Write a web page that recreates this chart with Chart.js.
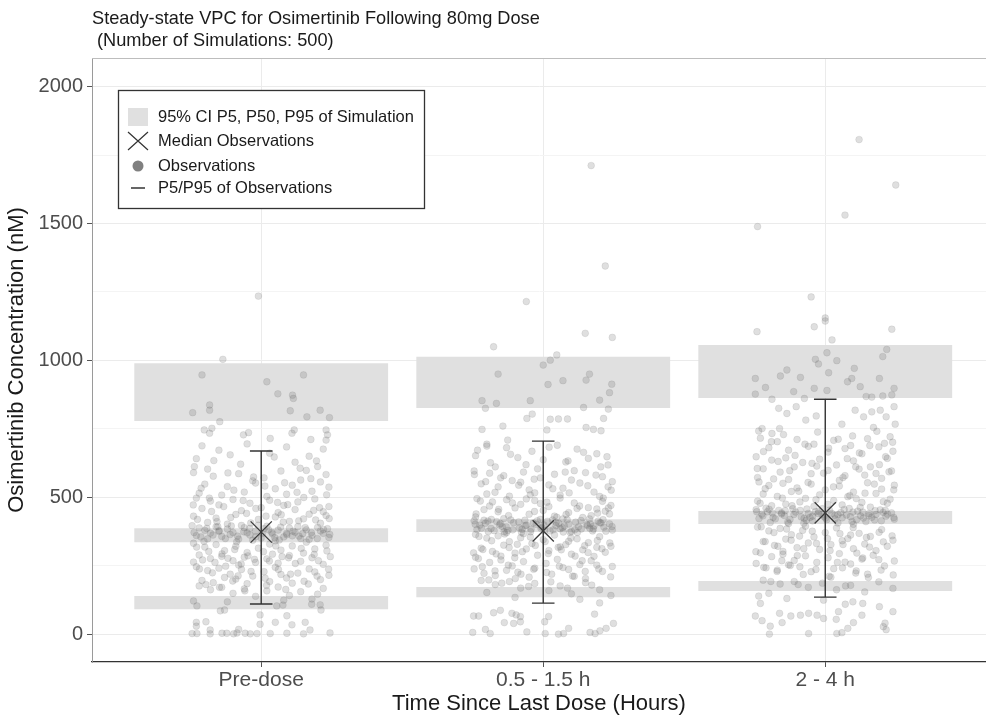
<!DOCTYPE html>
<html>
<head>
<meta charset="utf-8">
<title>Osimertinib VPC</title>
<script src="https://cdn.jsdelivr.net/npm/chart.js@4.4.1/dist/chart.umd.min.js"></script>
<style>
  html, body { margin: 0; padding: 0; background: #fff; overflow: hidden; }
  canvas { display: block; }
</style>
</head>
<body>
<canvas id="vpcChart" width="986" height="716"></canvas>
<script>
// x categories (time bins) and their positions on the linear x axis
const categories = ['Pre-dose', '0.5 - 1.5 h', '2 - 4 h'];
const categoryPos = [1, 2, 3];

// y axis ticks (labelled) and minor grid lines
const yTicks = [0, 500, 1000, 1500, 2000];
const yMinorTicks = [250, 750, 1250, 1750];

// 95% CI of simulated P5 / P50 / P95 (nM), one value per bin
const simP5Low = [91, 135, 157];
const simP5High = [139, 172, 194];
const simP50Low = [336, 373, 402];
const simP50High = [387, 420, 450];
const simP95Low = [779, 826, 863];
const simP95High = [990, 1013, 1056];

// observed median and P5/P95 (nM)
const obsMedian = [373, 377, 443];
const obsP5 = [110, 113, 135];
const obsP95 = [669, 705, 858];

// observations: [jitter offset, concentration nM]
const obsPreDose = [
  [-.01,1235],[-.136,1004],[-.21,947],[.02,922],[.15,947],[.059,878],[.111,873],[.114,861],[-.183,837],[-.183,818],
  [-.243,809],[.103,816],[.209,818],[.162,794],[.242,791],[-.147,776],[-.202,746],[-.175,752],[-.183,734],[-.063,728],
  [-.045,736],[.117,746],[.109,734],[.032,715],[.176,711],[.23,746],[.235,728],[.23,709],
  [-.21,688],[-.15,672],[-.05,695],[.03,661],[.09,684],[.17,650],[.22,676],[-.23,641],[-.11,655],[.12,628],[.2,612],[-.19,603],
  [-.24,590],[-.17,577],[-.08,586],[.01,571],[.07,596],[.14,563],[.23,583],[-.2,548],[-.12,539],[-.02,552],[.05,531],
  [.11,544],[.18,522],[.24,537],[-.22,515],[-.14,508],[-.06,519],[.02,503],[.09,511],[.16,598],[-.03,560],[.21,556],
  [-.23,497],[-.18,486],[-.1,492],[-.04,478],[.03,489],[.08,470],[.13,483],[.19,494],[.24,466],[-.21,459],[-.15,472],
  [-.07,451],[.0,462],[.06,444],[.12,455],[.17,438],[.22,447],[-.24,431],[-.16,424],[-.09,437],[-.01,419],[.05,428],
  [.1,412],[.15,421],[.21,405],[-.19,408],[-.12,402],[.23,433],
  [-.245,396],[-.22,388],[-.2,379],[-.18,369],[-.16,392],[-.14,357],[-.12,384],[-.1,371],[-.08,347],[-.06,389],
  [-.04,362],[-.02,376],[.0,351],[.02,394],[.04,366],[.06,380],[.08,355],[.1,387],[.12,372],[.14,349],[.16,381],
  [.18,361],[.2,390],[.22,368],[.24,353],[-.23,360],[-.19,348],[-.15,375],[-.11,364],[-.07,397],[-.03,343],[.01,385],
  [.05,341],[.09,368],[.13,393],[.17,346],[.21,377],[.235,385],[-.05,370],[.11,359],
  [-.24,332],[-.2,318],[-.16,327],[-.13,305],[-.09,321],[-.05,298],[-.01,314],[.03,329],[.07,307],[.11,322],[.15,296],
  [.19,311],[.23,325],[-.22,289],[-.18,276],[-.14,284],[-.1,268],[-.06,281],[-.02,262],[.02,275],[.06,259],[.1,287],
  [.14,266],[.18,279],[.22,255],[-.24,263],[-.08,252],[.04,292],[.16,336],[.245,283],
  [-.23,246],[-.19,232],[-.15,241],[-.11,219],[-.07,236],[-.03,212],[.01,228],[.05,244],[.09,205],[.13,223],[.17,238],
  [.21,199],[.24,215],[-.21,196],[-.17,188],[-.13,207],[-.05,184],[.03,192],[.11,186],[.19,227],[-.09,201],[.07,218],
  [-.22,176],[-.18,162],[-.14,171],[-.1,149],[-.06,165],[-.02,138],[.02,158],[.06,172],[.1,141],[.14,155],[.18,128],
  [.22,167],[-.24,121],[-.12,118],[.08,124],[.2,146],
  [-.237,612],[-.168,634],[-.073,621],[.046,647],[.138,606],[.196,633],[-.118,589],[-.027,574],[.083,553],[.176,568],
  [-.213,533],[-.097,526],[.013,541],[.127,518],[.232,509],[-.184,497],[-.064,488],[.058,481],[.151,499],[-.241,472],
  [-.133,466],[-.019,459],[.094,473],[.207,462],[-.176,448],[-.052,441],[.071,436],[.186,452],[-.226,419],[-.108,426],
  [.017,431],[.133,414],[.241,422],[-.157,411],[-.037,406],[.078,409],[.193,417],
  [-.238,371],[-.214,355],[-.193,386],[-.171,362],[-.149,378],[-.127,349],[-.106,395],[-.084,358],[-.062,374],
  [-.041,386],[-.019,356],[.004,368],[.026,381],[.048,352],[.069,391],[.091,363],[.113,376],[.134,358],[.156,389],
  [.178,371],[.199,349],[.221,382],[.243,364],[-.203,339],[-.087,337],[.037,372],[.147,367],[-.154,393],[.064,344],
  [-.011,398],
  [-.229,318],[-.186,302],[-.139,293],[-.094,309],[-.047,286],[.008,301],[.052,322],[.097,279],[.142,313],[.188,291],
  [.233,304],[-.208,271],[-.164,262],[-.118,277],[-.071,256],[-.024,273],[.029,267],[.074,283],[.121,258],[.203,268],
  [-.219,238],[-.173,224],[-.126,248],[-.082,213],[-.036,229],[.014,204],[.061,236],[.104,219],[.152,193],[.198,212],
  [.239,237],[-.196,181],[-.148,171],[-.101,194],[-.058,158],[.019,178],[.087,163],[.167,183],
  [-.228,103],[-.145,85],[-.13,88],[-.004,70],[.091,67],[.055,103],[.077,106],[.179,109],[.209,107],[.212,88],
  [-.23,43],[-.196,45],[-.004,36],[.05,43],[.109,34],[.156,43],[-.23,29],[-.181,15],[-.08,17],[.173,15],
  [-.245,2],[-.228,2],[-.181,1],[-.139,3],[-.122,3],[-.098,1],[-.086,4],[-.057,3],[-.039,1],[-.015,2],[.032,2],
  [.091,3],[.15,1],[.244,4]
];

const obsMidAbs = [
  [.17,1712],[.22,1345],[-.06,1215],[.149,1099],[.245,1084],[-.176,1050],[.048,1020],[.025,1001],[0,983],[-.16,950],
  [.164,950],[.07,926],[.017,912],[.152,928],[.243,913],[.235,882],[-.217,853],[-.166,843],[-.046,853],[.2,855],
  [-.205,825],[.143,828],[.231,822],[-.058,788],[-.039,804],[.025,785],[.054,786],[.086,786],[.214,788],[-.143,760],
  [-.217,748],[.152,755],[.178,748],[.205,743],[.013,746],[-.126,709],[-.2,687],
  [-.2,694],[-.13,681],[-.04,668],[.05,690],[.12,676],[.19,659],[-.24,652],[-.09,645],[.0,637],[.08,629],[.16,642],
  [.23,618],[-.17,611],[-.02,604],
  [-.245,596],[-.19,588],[-.14,579],[-.07,592],[-.01,571],[.04,584],[.1,563],[.15,590],[.21,575],[.245,557],[-.22,549],
  [-.16,538],[-.11,561],[-.05,527],[.02,545],[.07,533],[.13,552],[.18,519],[.23,538],[-.2,512],[-.12,504],[-.03,516],
  [.06,508],[.11,597],[.2,503],[-.08,555],
  [-.235,495],[-.18,483],[-.13,491],[-.08,474],[-.03,488],[.02,466],[.06,497],[.11,479],[.16,462],[.21,485],[.24,470],
  [-.21,455],[-.16,447],[-.1,461],[-.05,438],[.0,452],[.04,431],[.09,444],[.14,426],[.19,457],[.235,439],[-.24,428],
  [-.14,422],[-.06,494],[.07,421],[.17,433],[-.19,468],[.12,459],[-.01,477],[.22,449],
  [-.245,414],[-.225,398],[-.205,405],[-.185,386],[-.165,411],[-.145,393],[-.125,379],[-.105,407],[-.085,388],
  [-.065,416],[-.045,374],[-.025,401],[-.005,390],[.015,412],[.035,381],[.055,404],[.075,395],[.095,372],[.115,409],
  [.135,384],[.155,400],[.175,377],[.195,413],[.215,391],[.235,403],[-.235,382],[-.195,375],[-.155,399],[-.115,417],
  [-.075,383],[-.035,406],[.005,378],[.045,396],[.085,418],[.125,392],[.165,387],[.205,406],[.245,380],[-.13,371],
  [-.01,419],[.1,375],[.18,395],[-.06,398],[.06,385],[-.21,416],
  [-.24,364],[-.2,351],[-.16,359],[-.12,338],[-.08,352],[-.04,331],[.0,345],[.04,362],[.08,327],[.12,348],[.16,334],
  [.2,356],[.24,321],[-.22,314],[-.18,302],[-.14,325],[-.1,296],[-.06,311],[-.02,288],[.02,305],[.06,319],[.1,292],
  [.14,308],[.18,284],[.22,299],[-.24,281],[-.07,367],[.09,339],[-.15,285],[.19,317],
  [-.23,276],[-.19,262],[-.15,271],[-.11,249],[-.07,265],[-.03,241],[.01,258],[.05,273],[.09,236],[.13,254],[.17,268],
  [.21,229],[.245,247],[-.21,222],[-.17,214],[-.13,233],[-.05,208],[.03,219],[.11,211],[.19,252],[-.09,226],[.07,243],
  [-.245,238],[.15,203],
  [-.22,196],[-.17,181],[-.12,192],[-.08,168],[-.03,185],[.02,159],[.06,176],[.1,147],[.15,188],[.2,162],[.24,141],
  [-.2,152],[-.1,134],[.13,127],
  [-.233,672],[-.116,657],[.021,683],[.143,664],[.226,648],[-.187,626],[-.061,619],[.088,633],[.204,611],[-.244,583],
  [-.151,571],[-.032,566],[.078,592],[.187,581],[-.204,557],[-.087,544],[.034,531],[.158,542],[.241,526],[-.171,518],
  [-.046,509],[.092,516],[.213,497],[-.223,486],[-.109,479],[.013,482],[.129,468],[.231,461],[-.158,456],[-.031,448],
  [.081,437],[.193,442],[-.238,439],[-.123,433],[.048,427],[.164,421],
  [-.241,401],[-.219,387],[-.196,413],[-.174,378],[-.152,404],[-.131,392],[-.108,381],[-.087,410],[-.064,396],
  [-.043,383],[-.021,414],[.002,399],[.024,377],[.046,408],[.068,389],[.091,402],[.112,381],[.134,415],[.157,396],
  [.178,384],[.201,407],[.222,376],[.244,393],[-.184,419],[-.077,372],[.033,417],[.121,371],[.212,418],[-.139,374],
  [-.008,386],[.071,373],[.167,403],
  [-.228,357],[-.183,341],[-.137,366],[-.092,328],[-.046,355],[.007,338],[.053,317],[.098,351],[.147,323],[.192,342],
  [.236,333],[-.214,309],[-.167,293],[-.121,316],[-.074,301],[-.028,324],[.018,294],[.064,308],[.113,285],[.159,298],
  [.208,312],[-.247,297],[-.101,279],[.138,268],
  [-.216,246],[-.171,231],[-.124,252],[-.079,219],[-.034,237],[.012,225],[.057,248],[.104,212],[.149,229],[.197,238],
  [.239,209],[-.193,198],[-.147,186],[-.099,203],[-.052,174],[.027,191],[.086,168],[.172,179],
  [.2,114],[-.247,66],[-.229,66],[-.176,78],[-.152,87],[-.111,76],[-.096,70],[-.081,64],[-.138,42],[-.105,39],
  [-.081,45],[.005,45],[.019,64],[.182,73],[.249,39],[.223,21],[.201,12],[-.25,6],[-.205,17],[-.188,2],[-.058,8],
  [.007,2],[.054,0],[.072,2],[.09,21],[.166,6],[.184,2]
];

const obsLate = [
  [.12,1807],[.25,1641],[.07,1531],[-.24,1489],[-.05,1232],[0,1155],[-.242,1105],[-.039,1123],[0,1144],[.236,1114],
  [.024,1075],[.218,1040],[.006,1028],[.204,1014],[-.035,1004],[-.024,987],[.041,999],[-.136,965],[-.159,943],
  [-.088,938],[.012,955],[.103,971],[.079,922],[.094,934],[.192,934],[-.248,934],[-.212,901],[-.112,886],[-.039,898],
  [.006,890],[.124,904],[-.248,877],[.244,898],[.236,874],[-.189,858],[.145,868],[.165,866],[.204,870],[-.074,861],
  [-.103,831],[-.165,825],[-.136,806],[-.069,782],[-.032,797],[.106,818],[.136,794],[.165,812],[.195,818],[.216,794],
  [.244,831],[-.224,751],[-.189,733],[-.162,751],[.059,767],[.171,755],[.248,767],[.23,721],
  [-.23,716],[-.17,703],[-.1,711],[-.04,694],[.03,708],[.09,689],[.15,714],[.21,697],[-.2,681],[-.13,672],[-.06,686],
  [.01,665],[.07,678],[.13,659],[.19,684],[.24,668],
  [-.245,648],[-.19,636],[-.14,644],[-.08,627],[-.02,639],[.04,618],[.1,633],[.16,611],[.22,642],[-.22,604],[-.16,592],
  [-.11,611],[-.05,586],[.01,598],[.07,579],[.12,603],[.18,587],[.235,596],[-.24,572],[-.13,565],[.05,562],[.2,569],
  [-.03,614],[.14,581],
  [-.235,556],[-.2,543],[-.15,551],[-.1,534],[-.05,548],[.0,527],[.05,541],[.1,519],[.15,553],[.2,530],[.245,544],
  [-.22,512],[-.17,503],[-.12,521],[-.07,496],[-.02,509],[.03,488],[.08,502],[.13,481],[.18,514],[.23,493],[-.24,486],
  [-.14,475],[-.04,467],[.06,472],[.16,464],[.22,478],[-.19,469],[-.09,483],[.11,495],
  [-.245,455],[-.225,438],[-.205,447],[-.185,426],[-.165,452],[-.145,433],[-.125,419],[-.105,446],[-.085,428],
  [-.065,457],[-.045,414],[-.025,441],[-.005,430],[.015,453],[.035,421],[.055,444],[.075,435],[.095,411],[.115,449],
  [.135,424],[.155,440],[.175,417],[.195,454],[.215,431],[.235,443],[-.235,422],[-.195,408],[-.155,439],[-.115,458],
  [-.075,423],[-.035,447],[.005,418],[.045,436],[.085,459],[.125,432],[.165,427],[.205,445],[.245,420],[-.13,404],
  [-.01,458],[.1,401],[.18,437],[-.06,441],[.06,425],[-.21,460],
  [-.24,391],[-.2,377],[-.16,386],[-.12,363],[-.08,379],[-.04,355],[.0,371],[.04,388],[.08,349],[.12,368],[.16,357],
  [.2,382],[.24,343],[-.22,338],[-.18,324],[-.14,347],[-.1,316],[-.06,333],[-.02,309],[.02,327],[.06,341],[.1,312],
  [.14,329],[.18,305],[.22,321],[-.07,394],[.09,362],[-.15,302],
  [-.23,297],[-.19,283],[-.15,292],[-.11,269],[-.07,286],[-.03,262],[.01,279],[.05,294],[.09,256],[.13,274],[.17,288],
  [.21,249],[.245,267],[-.21,242],[-.17,234],[-.13,253],[-.05,228],[.03,239],[.11,231],[.19,272],[-.09,246],[.07,263],
  [-.245,258],[.15,219],
  [-.22,197],[-.16,183],[-.11,192],[-.06,171],[-.01,186],[.04,162],[.09,178],[.14,154],[.19,191],[.24,167],[-.2,149],
  [.02,208],
  [-.236,742],[-.148,729],[-.027,738],[.097,724],[.183,741],[-.191,703],[-.072,694],[.046,712],[.158,689],[.239,701],
  [-.219,667],[-.107,653],[.012,679],[.121,662],[.214,648],[-.167,631],[-.047,624],[.078,641],[.192,619],[-.241,605],
  [-.126,597],[-.006,588],[.108,611],[.226,593],[-.183,567],[-.061,554],[.063,572],[.174,548],[-.213,531],[-.094,522],
  [.029,538],[.141,515],[.243,527],[-.152,497],[-.033,491],[.087,506],[.206,484],[-.231,478],[-.118,469],[.009,474],
  [.124,463],
  [-.243,447],[-.221,432],[-.199,456],[-.177,421],[-.155,443],[-.133,409],[-.111,437],[-.089,452],[-.067,416],
  [-.045,431],[-.023,449],[.001,424],[.023,441],[.045,406],[.067,455],[.089,429],[.111,418],[.133,446],[.155,433],
  [.177,451],[.199,414],[.221,438],[.243,426],[-.188,443],[-.076,405],[.034,434],[.144,411],[-.142,451],[-.012,437],
  [.098,446],[.213,452],[-.054,426],
  [-.227,392],[-.182,371],[-.137,384],[-.091,358],[-.046,376],[.008,349],[.052,367],[.099,389],[.146,353],[.191,372],
  [.237,359],[-.213,338],[-.168,321],[-.121,343],[-.076,312],[-.031,331],[.017,305],[.063,327],[.112,296],[.157,318],
  [.206,337],[-.246,301],[-.099,287],[.133,278],[-.154,268],[.043,262],
  [-.218,244],[-.171,229],[-.124,251],[-.078,218],[-.033,236],[.014,211],[.061,242],[.108,223],[.153,207],[.198,234],
  [.241,216],[-.193,192],[-.096,181],[.072,176],
  [-.236,139],[-.23,112],[-.136,130],[-.006,124],[.071,109],[.098,118],[.133,112],[.192,100],[.24,82],[-.248,66],
  [-.224,49],[-.162,76],[-.153,42],[-.122,66],[-.088,69],[-.059,76],[-.029,69],[-.006,57],[.047,82],[.039,54],
  [.1,42],[.13,69],[.08,21],[.212,40],[.216,16],[-.195,29],[-.198,0],[-.059,2],[.041,2],[.059,5],[.206,27]
];

const titleLines = ['Steady-state VPC for Osimertinib Following 80mg Dose', ' (Number of Simulations: 500)'];
const legendLabels = ['95% CI P5, P50, P95 of Simulation', 'Median Observations', 'Observations', 'P5/P95 of Observations'];

const FONT = '"Liberation Sans", Arial, Helvetica, sans-serif';
const BAND_COLOR = '#e0e0e0';
const CAP_HALF = 0.04;

function bandData(low, high) {
  return categoryPos.map((x, i) => ({ x: x, y: [low[i], high[i]] }));
}

const observations = [obsPreDose, obsMidAbs, obsLate];
const pointData = [];
observations.forEach((obs, i) => {
  obs.forEach(p => pointData.push({ x: categoryPos[i] + p[0], y: p[1] }));
});

// vertical whiskers plus caps, separated by gaps
const whiskerData = [];
categoryPos.forEach((x, i) => {
  whiskerData.push({ x: x, y: obsP5[i] }, { x: x, y: obsP95[i] }, { x: x, y: null });
  whiskerData.push({ x: x - CAP_HALF, y: obsP95[i] }, { x: x + CAP_HALF, y: obsP95[i] }, { x: x, y: null });
  whiskerData.push({ x: x - CAP_HALF, y: obsP5[i] }, { x: x + CAP_HALF, y: obsP5[i] }, { x: x, y: null });
});

const medianData = categoryPos.map((x, i) => ({ x: x, y: obsMedian[i] }));

const bandDefaults = {
  type: 'bar',
  backgroundColor: BAND_COLOR,
  borderWidth: 0,
  grouped: false,
  categoryPercentage: 0.9,
  barPercentage: 1.0,
  order: 4
};

// title, legend box and top panel border
const decorations = {
  id: 'decorations',
  afterDraw(chart) {
    const ctx = chart.ctx;
    const area = chart.chartArea;
    ctx.save();

    ctx.strokeStyle = '#bdbdbd';
    ctx.lineWidth = 1;
    ctx.beginPath();
    ctx.moveTo(area.left, area.top + 0.5);
    ctx.lineTo(area.right, area.top + 0.5);
    ctx.stroke();

    ctx.fillStyle = '#1a1a1a';
    ctx.font = '18.2px ' + FONT;
    ctx.textBaseline = 'middle';
    ctx.fillText(titleLines[0], area.left, 19);
    ctx.fillText(titleLines[1], area.left, 41);

    const bx = area.left + 26, by = area.top + 32, bw = 306, bh = 118;
    ctx.fillStyle = '#fff';
    ctx.fillRect(bx, by, bw, bh);
    ctx.strokeStyle = '#333';
    ctx.lineWidth = 1.3;
    ctx.strokeRect(bx + 0.5, by + 0.5, bw, bh);

    const sx = bx + 20, tx = bx + 40;
    const rows = [by + 27, by + 51, by + 76, by + 98];

    ctx.fillStyle = BAND_COLOR;
    ctx.fillRect(sx - 10, rows[0] - 9, 20, 18);

    ctx.strokeStyle = '#333';
    ctx.lineWidth = 1.2;
    ctx.beginPath();
    ctx.moveTo(sx - 10, rows[1] - 9); ctx.lineTo(sx + 10, rows[1] + 9);
    ctx.moveTo(sx + 10, rows[1] - 9); ctx.lineTo(sx - 10, rows[1] + 9);
    ctx.stroke();

    ctx.fillStyle = '#808080';
    ctx.beginPath();
    ctx.arc(sx, rows[2], 5.5, 0, Math.PI * 2);
    ctx.fill();

    ctx.lineWidth = 1.5;
    ctx.beginPath();
    ctx.moveTo(sx - 7, rows[3]); ctx.lineTo(sx + 7, rows[3]);
    ctx.stroke();

    ctx.fillStyle = '#1a1a1a';
    ctx.font = '16.5px ' + FONT;
    legendLabels.forEach((t, i) => ctx.fillText(t, tx, rows[i]));

    ctx.restore();
  }
};

new Chart(document.getElementById('vpcChart'), {
  type: 'scatter',
  data: {
    datasets: [
      Object.assign({ label: 'P95 band', data: bandData(simP95Low, simP95High) }, bandDefaults),
      Object.assign({ label: 'P50 band', data: bandData(simP50Low, simP50High) }, bandDefaults),
      Object.assign({ label: 'P5 band', data: bandData(simP5Low, simP5High) }, bandDefaults),
      {
        label: 'Observations',
        data: pointData,
        pointRadius: 3.4,
        pointBackgroundColor: 'rgba(105,105,105,0.21)',
        pointBorderColor: 'rgba(95,95,95,0.14)',
        pointBorderWidth: 0.8,
        order: 3
      },
      {
        label: 'P5/P95 of Observations',
        type: 'line',
        data: whiskerData,
        borderColor: '#333',
        borderWidth: 1.4,
        pointRadius: 0,
        spanGaps: false,
        fill: false,
        order: 2
      },
      {
        label: 'Median Observations',
        data: medianData,
        pointStyle: 'crossRot',
        pointRadius: 15,
        pointBorderColor: '#3a3a3a',
        pointBorderWidth: 1.3,
        order: 1
      }
    ]
  },
  options: {
    responsive: false,
    animation: false,
    events: [],
    layout: { autoPadding: false, padding: { top: 58, left: 0, right: 0, bottom: 0 } },
    plugins: {
      legend: { display: false },
      tooltip: { enabled: false },
      title: { display: false }
    },
    scales: {
      x: {
        type: 'linear',
        min: 0.4,
        max: 3.57,
        offset: false,
        afterFit(scale) {
          scale.height = 54;
          scale.paddingLeft = 0;
          scale.paddingRight = 0;
        },
        afterBuildTicks(scale) { scale.ticks = categoryPos.map(v => ({ value: v })); },
        grid: { color: '#ebebeb', lineWidth: 1, tickLength: 5, tickColor: '#555', offset: false },
        border: { color: '#333', width: 1.2 },
        ticks: {
          color: '#4d4d4d',
          font: { family: FONT, size: 21 },
          padding: 1,
          callback: v => categories[categoryPos.indexOf(v)]
        },
        title: {
          display: true,
          text: 'Time Since Last Dose (Hours)',
          color: '#1a1a1a',
          font: { family: FONT, size: 22 },
          padding: { top: 0, bottom: -1 }
        }
      },
      y: {
        type: 'linear',
        min: -102,
        max: 2105,
        afterFit(scale) {
          scale.width = 92;
          scale.paddingTop = 0;
          scale.paddingBottom = 0;
        },
        afterBuildTicks(scale) {
          scale.ticks = yTicks.concat(yMinorTicks).sort((a, b) => a - b).map(v => ({ value: v }));
        },
        grid: {
          color: c => yTicks.includes(c.tick.value) ? '#ebebeb' : '#f4f4f4',
          lineWidth: 1,
          tickLength: 5,
          tickColor: c => yTicks.includes(c.tick.value) ? '#555' : 'rgba(0,0,0,0)'
        },
        border: { color: '#9a9a9a', width: 1 },
        ticks: {
          color: '#4d4d4d',
          font: { family: FONT, size: 20 },
          padding: 4,
          callback: v => yTicks.includes(v) ? String(v) : ''
        },
        title: {
          display: true,
          text: 'Osimertinib Concentration (nM)',
          color: '#1a1a1a',
          font: { family: FONT, size: 22 },
          padding: { top: 4, bottom: 0 }
        }
      }
    }
  },
  plugins: [decorations]
});
</script>
</body>
</html>
